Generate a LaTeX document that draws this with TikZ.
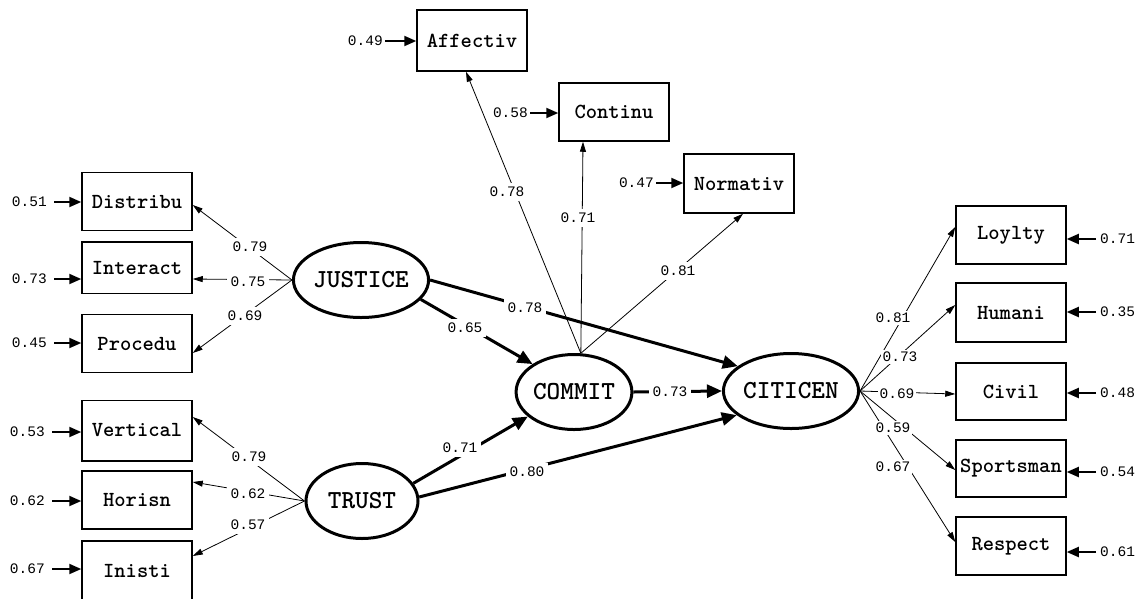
\documentclass[tikz,border=0pt]{standalone}
\usepackage{fontspec}
\newfontfamily\numfont{Liberation Mono}
\usetikzlibrary{arrows.meta,shapes.geometric}
\tikzset{
  obs/.style={draw, line width=1.5pt, minimum width=110pt, minimum height=58pt, inner sep=0pt, font=\ttfamily\bfseries\fontsize{21.5}{23}\selectfont},
  lat/.style={draw, ellipse, line width=3pt, minimum width=112pt, minimum height=75pt, inner sep=0pt, font=\ttfamily\bfseries\fontsize{26}{28}\selectfont},
  num/.style={font=\numfont\fontsize{14.5}{16}\selectfont, inner sep=1pt},
  lbl/.style={num, fill=white, inner sep=4pt},
  thin/.style={line width=0.8pt, -{Triangle[length=10pt,width=6pt]}},
  thick/.style={line width=3pt, -{Triangle[length=15pt,width=13pt]}},
  res/.style={line width=2pt, -{Triangle[length=12pt,width=10pt]}, shorten <=6pt},
}
\begin{document}
\begin{tikzpicture}[x=1pt,y=-1pt]
\useasboundingbox (0,0) rectangle (1137,598);
% latent variables
\node[lat] (jus) at (361,280) {JUSTICE};
\node[lat] (tru) at (362,501) {TRUST};
\node[lat] (com) at (574,392) {COMMIT};
\node[lat] (cit) at (791,391) {CITICEN};
% left boxes
\node[obs] (dis) at (137,201.5) {Distribu};
\node[obs, minimum height=51.5pt] (int) at (137,267.5) {Interact};
\node[obs] (pro) at (137,343.5) {Procedu};
\node[obs, minimum height=60.5pt] (ver) at (137,430.5) {Vertical};
\node[obs] (hor) at (137,500) {Horisn};
\node[obs, minimum height=59pt] (ini) at (137,570.5) {Inisti};
% top boxes
\node[obs, minimum height=61pt] (aff) at (472,40.5) {Affectiv};
\node[obs] (con) at (614,112) {Continu};
\node[obs, minimum height=59pt] (nor) at (739,183.5) {Normativ};
% right boxes
\node[obs] (loy) at (1011,235) {Loylty};
\node[obs, minimum height=59pt] (hum) at (1011,312.5) {Humani};
\node[obs, minimum height=57pt] (civ) at (1011,391.5) {Civil};
\node[obs, minimum height=57pt] (spo) at (1011,468.5) {Sportsman};
\node[obs] (res) at (1011,546) {Respect};
% residuals left
\node[num, anchor=east] (rdis) at (48,202) {0.51};
\node[num, anchor=east] (rint) at (48,279) {0.73};
\node[num, anchor=east] (rpro) at (48,343) {0.45};
\node[num, anchor=east] (rver) at (46,432) {0.53};
\node[num, anchor=east] (rhor) at (46,501) {0.62};
\node[num, anchor=east] (rini) at (46,569) {0.67};
\draw[res] (rdis.east) -- (rdis.east -| dis.west);
\draw[res] (rint.east) -- (rint.east -| int.west);
\draw[res] (rpro.east) -- (rpro.east -| pro.west);
\draw[res] (rver.east) -- (rver.east -| ver.west);
\draw[res] (rhor.east) -- (rhor.east -| hor.west);
\draw[res] (rini.east) -- (rini.east -| ini.west);
% residuals top
\node[num, anchor=east] (raff) at (384,41) {0.49};
\node[num, anchor=east] (rcon) at (529,113) {0.58};
\node[num, anchor=east] (rnor) at (655,183) {0.47};
\draw[res, shorten <=1pt] (raff.east) -- (raff.east -| aff.west);
\draw[res, shorten <=1pt] (rcon.east) -- (rcon.east -| con.west);
\draw[res, shorten <=1pt] (rnor.east) -- (rnor.east -| nor.west);
% residuals right
\node[num, anchor=west] (rloy) at (1099,239) {0.71};
\node[num, anchor=west] (rhum) at (1099,312) {0.35};
\node[num, anchor=west] (rciv) at (1099,393) {0.48};
\node[num, anchor=west] (rspo) at (1099,472) {0.54};
\node[num, anchor=west] (rres) at (1099,552) {0.61};
\draw[res, shorten <=3pt] (rloy.west) -- (rloy.west -| loy.east);
\draw[res, shorten <=3pt] (rhum.west) -- (rhum.west -| hum.east);
\draw[res, shorten <=3pt] (rciv.west) -- (rciv.west -| civ.east);
\draw[res, shorten <=3pt] (rspo.west) -- (rspo.west -| spo.east);
\draw[res, shorten <=3pt] (rres.west) -- (rres.west -| res.east);
% loadings
\draw[thin] (jus.west) -- ([yshift=-3.5pt]dis.east);
\draw[thin] (jus.west) -- ([yshift=-11.5pt]int.east);
\draw[thin] (jus.west) -- ([yshift=-9.5pt]pro.east);
\draw[thin] (tru.west) -- ([yshift=13.5pt]ver.east);
\draw[thin] (tru.west) -- ([yshift=18pt]hor.east);
\draw[thin] (tru.west) -- ([yshift=14.5pt]ini.east);
\draw[thin] (com.80) -- ([xshift=-6pt]aff.south);
\draw[thin] (com.80) -- ([xshift=-31pt]con.south);
\draw[thin] (com.80) -- ([xshift=4pt]nor.south);
\draw[thin] (cit.east) -- ([yshift=8pt]loy.west);
\draw[thin] (cit.east) -- ([yshift=7.5pt]hum.west);
\draw[thin] (cit.east) -- ([yshift=-2.5pt]civ.west);
\draw[thin] (cit.east) -- ([yshift=-1.5pt]spo.west);
\draw[thin] (cit.east) -- ([yshift=4pt]res.west);
% structural paths
\draw[thick] (jus.east) -- (cit.155);
\draw[thick] (jus.342) -- (com.146);
\draw[thick] (tru.19) -- (com.208);
\draw[thick] (tru.4) -- (cit.204);
\draw[thick] (com.east) -- (cit.west);
% labels
\node[lbl] (l1) at (250,247) {0.79};
\node[lbl] (l2) at (248,282) {0.75};
\node[lbl] (l3) at (245,316) {0.69};
\node[lbl] (l4) at (249,457) {0.79};
\node[lbl] (l5) at (248,494) {0.62};
\node[lbl] (l6) at (248,525) {0.57};
\node[lbl] (l7) at (507,192) {0.78};
\node[lbl] (l8) at (578,218) {0.71};
\node[lbl] (l9) at (678,271) {0.81};
\node[lbl] (l10) at (525,308) {0.78};
\node[lbl] (l11) at (465,328) {0.65};
\node[lbl] (l12) at (670,392) {0.73};
\node[lbl] (l13) at (460,448) {0.71};
\node[lbl] (l14) at (527,472) {0.80};
\node[lbl, inner sep=2pt] (l15) at (893,318) {0.81};
\node[lbl, inner sep=2pt] (l16) at (900,357) {0.73};
\node[lbl, inner sep=2pt] (l17) at (897,394) {0.69};
\node[lbl, inner sep=2pt] (l18) at (893,428) {0.59};
\node[lbl, inner sep=2pt] (l19) at (893,467) {0.67};
\end{tikzpicture}
\end{document}
